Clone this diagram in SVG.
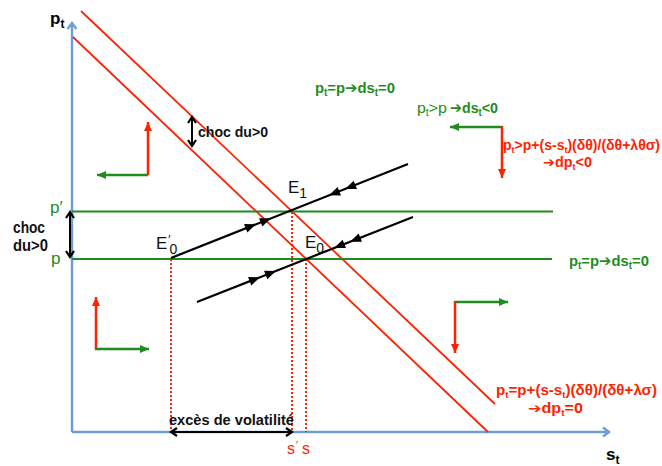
<svg xmlns="http://www.w3.org/2000/svg" width="662" height="466" viewBox="0 0 662 466">
<style>
text{font-family:"Liberation Sans","DejaVu Sans",sans-serif}
.bd{font-weight:bold}
.gt{fill:#1e8c1e}
.rt{fill:#ff2200}
.kt{fill:#111}
.axis{stroke:#6d9ed6;stroke-width:2.5;fill:none}
.red{stroke:#ff2200;stroke-width:1.8;fill:none}
.dot{stroke:#ff2200;stroke-width:2;stroke-dasharray:2,2;fill:none}
.grn{stroke:#1e8c1e;stroke-width:2;fill:none}
.blk{stroke:#000;stroke-width:2.2;fill:none}
.pr{stroke:#ff2200;stroke-width:2.5;fill:none;marker-end:url(#mr)}
.pg{stroke:#1e8c1e;stroke-width:2.5;fill:none;marker-end:url(#mg)}
.dbl{stroke:#000;stroke-width:2;fill:none;marker-start:url(#mk);marker-end:url(#mk)}
</style>
<defs>
<marker id="ma" markerUnits="userSpaceOnUse" markerWidth="12" markerHeight="12" refX="9" refY="6" orient="auto">
<path d="M3,1.5 L9,6 L3,10.5" stroke="#6d9ed6" stroke-width="2.5" fill="none"/>
</marker>
<marker id="mr" markerUnits="userSpaceOnUse" markerWidth="10" markerHeight="9" refX="9" refY="4.5" orient="auto">
<path d="M0,0.5 L9,4.5 L0,8.5 Z" fill="#ff2200"/>
</marker>
<marker id="mg" markerUnits="userSpaceOnUse" markerWidth="10" markerHeight="9" refX="9" refY="4.5" orient="auto">
<path d="M0,0.5 L9,4.5 L0,8.5 Z" fill="#1e8c1e"/>
</marker>
<marker id="mk" markerUnits="userSpaceOnUse" markerWidth="10" markerHeight="10" refX="8" refY="5" orient="auto-start-reverse">
<path d="M2,1 L8,5 L2,9" stroke="#000" stroke-width="2.2" fill="none"/>
</marker>
<path id="ah" d="M1,0 L-10,-4.5 L-10,4.5 Z" fill="#000"/>
</defs>

<g id="axes">
<line class="axis" x1="72" y1="432" x2="72" y2="23" marker-end="url(#ma)"/>
<line class="axis" x1="72" y1="432" x2="609" y2="432" marker-end="url(#ma)"/>
<text class="bd" x="50" y="24" font-size="17">p<tspan dy="4" font-size="12">t</tspan></text>
<text class="bd" x="606" y="460" font-size="17">s<tspan dy="4" font-size="12">t</tspan></text>
</g>

<g id="curves">
<line class="red" x1="81" y1="11" x2="495" y2="404"/>
<line class="red" x1="73" y1="37" x2="488" y2="432"/>
<line class="grn" x1="72" y1="211.5" x2="553" y2="211.5"/>
<line class="grn" x1="72" y1="259" x2="552" y2="259"/>
<line class="dot" x1="171" y1="259" x2="171" y2="432"/>
<line class="dot" x1="292" y1="212" x2="292" y2="432"/>
<line class="dot" x1="306" y1="259" x2="306" y2="432"/>
</g>

<g id="saddle-paths">
<line class="blk" x1="171" y1="258" x2="408" y2="164"/>
<line class="blk" x1="197" y1="302" x2="413" y2="217"/>
<use href="#ah" transform="translate(255,224.6) rotate(-21.7)"/>
<use href="#ah" transform="translate(270,218.7) rotate(-21.7)"/>
<use href="#ah" transform="translate(330,194.9) rotate(158.3)"/>
<use href="#ah" transform="translate(346,188.6) rotate(158.3)"/>
<use href="#ah" transform="translate(259,277.6) rotate(-21.5)"/>
<use href="#ah" transform="translate(275,271.3) rotate(-21.5)"/>
<use href="#ah" transform="translate(335,247.6) rotate(158.5)"/>
<use href="#ah" transform="translate(351,241.3) rotate(158.5)"/>
</g>

<g id="equilibria">
<text class="kt" x="288" y="193" font-size="17">E<tspan dy="5" font-size="14">1</tspan></text>
<text class="kt" x="305" y="248" font-size="17">E<tspan dy="5" font-size="14">0</tspan></text>
<text class="kt" x="156" y="249" font-size="17">E<tspan dx="1" dy="-5" font-size="12">′</tspan><tspan dx="-1" dy="10" font-size="14">0</tspan></text>
</g>

<g id="phase-arrows">
<line class="pr" x1="148" y1="175" x2="148" y2="122"/>
<line class="pg" x1="148" y1="175" x2="97" y2="175"/>
<line class="pr" x1="96" y1="349" x2="96" y2="297"/>
<line class="pg" x1="95" y1="349" x2="149" y2="349"/>
<line class="pg" x1="502" y1="127" x2="450" y2="127"/>
<line class="pr" x1="502" y1="126" x2="502" y2="178"/>
<line class="pg" x1="455" y1="302" x2="508" y2="302"/>
<line class="pr" x1="455" y1="301" x2="455" y2="353"/>
</g>

<g id="shocks">
<line class="dbl" x1="192" y1="117" x2="192" y2="146"/>
<text class="bd kt" x="198" y="137" font-size="15" textLength="70" lengthAdjust="spacingAndGlyphs">choc du&gt;0</text>
<line class="dbl" x1="70" y1="212" x2="70" y2="257"/>
<text class="bd kt" x="13" y="233" font-size="16" textLength="32" lengthAdjust="spacingAndGlyphs">choc</text>
<text class="bd kt" x="13" y="251" font-size="16" textLength="35" lengthAdjust="spacingAndGlyphs">du&gt;0</text>
<line class="dbl" x1="171" y1="432" x2="292" y2="432"/>
<text class="bd kt" x="169" y="425" font-size="15" textLength="125" lengthAdjust="spacingAndGlyphs">excès de volatilité</text>
</g>

<g id="labels">
<text class="gt" x="50" y="213" font-size="17">p′</text>
<text class="gt" x="51" y="264" font-size="17">p</text>
<text class="rt" x="287" y="454" font-size="16">s<tspan dx="1" dy="-5" font-size="11">′</tspan></text>
<text class="rt" x="302" y="454" font-size="16">s</text>

<text class="gt bd" x="315" y="93" font-size="15" textLength="80" lengthAdjust="spacingAndGlyphs">p<tspan dy="3" font-size="10">t</tspan><tspan dy="-3">=p➔ds</tspan><tspan dy="3" font-size="10">t</tspan><tspan dy="-3">=0</tspan></text>
<text class="gt" x="417" y="113" font-size="15" textLength="30" lengthAdjust="spacingAndGlyphs">p<tspan dy="3" font-size="10">t</tspan><tspan dy="-3">&gt;p</tspan></text>
<text class="gt bd" x="450" y="113" font-size="15" textLength="48" lengthAdjust="spacingAndGlyphs">➔ds<tspan dy="3" font-size="10">t</tspan><tspan dy="-3">&lt;0</tspan></text>
<text class="rt bd" x="503" y="150" font-size="14" textLength="157" lengthAdjust="spacingAndGlyphs">p<tspan dy="3" font-size="9">t</tspan><tspan dy="-3">&gt;p+(s-s</tspan><tspan dy="3" font-size="9">t</tspan><tspan dy="-3">)(δθ)/(δθ+λθσ)</tspan></text>
<text class="rt bd" x="543" y="167" font-size="14" textLength="49" lengthAdjust="spacingAndGlyphs">➔dp<tspan dy="3" font-size="9">t</tspan><tspan dy="-3">&lt;0</tspan></text>
<text class="gt bd" x="569" y="266" font-size="15" textLength="80" lengthAdjust="spacingAndGlyphs">p<tspan dy="3" font-size="10">t</tspan><tspan dy="-3">=p➔ds</tspan><tspan dy="3" font-size="10">t</tspan><tspan dy="-3">=0</tspan></text>
<text class="rt bd" x="496" y="395" font-size="14" textLength="161" lengthAdjust="spacingAndGlyphs">p<tspan dy="3" font-size="9">t</tspan><tspan dy="-3">=p+(s-s</tspan><tspan dy="3" font-size="9">t</tspan><tspan dy="-3">)(δθ)/(δθ+λσ)</tspan></text>
<text class="rt bd" x="528" y="413" font-size="14" textLength="55" lengthAdjust="spacingAndGlyphs">➔dp<tspan dy="3" font-size="9">t</tspan><tspan dy="-3">=0</tspan></text>
</g>
</svg>
